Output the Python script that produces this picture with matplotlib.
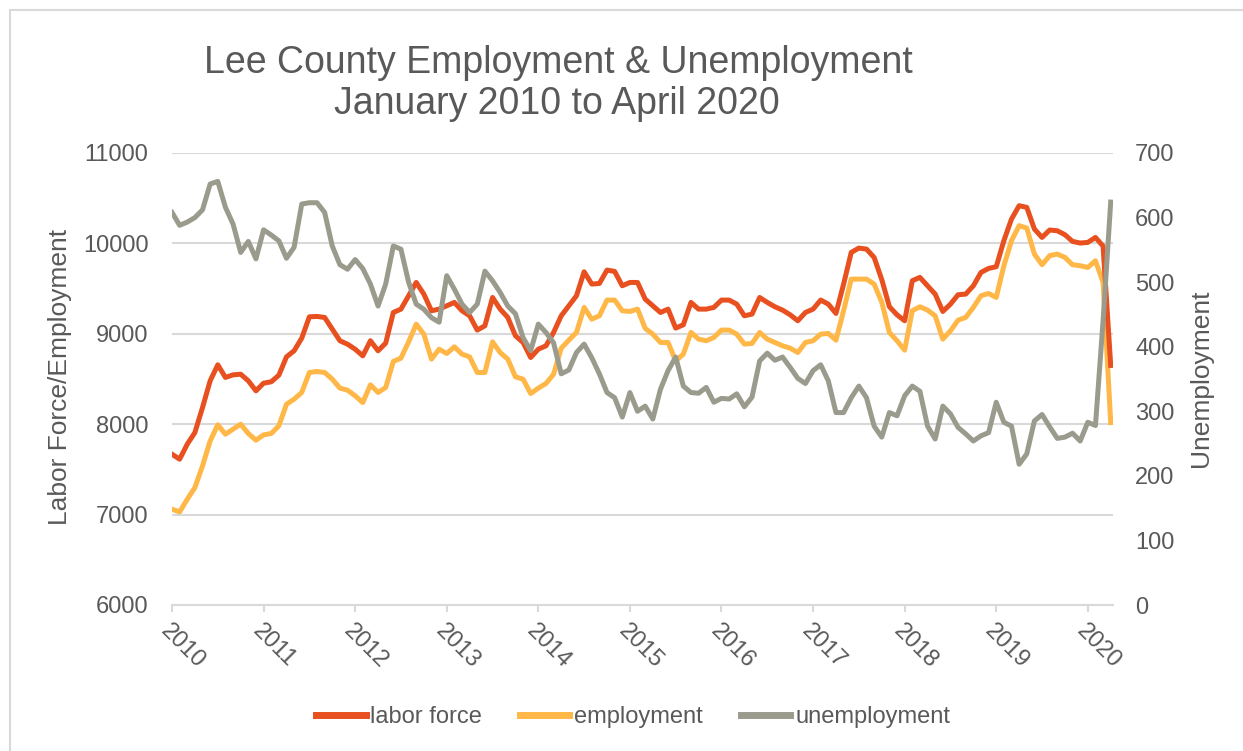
import matplotlib.pyplot as plt
from matplotlib.lines import Line2D
from matplotlib.patches import Rectangle
import numpy as np

plt.rcParams['font.family'] = ['Liberation Sans', 'DejaVu Sans']

# monthly values, Jan 2010 .. Apr 2020
labor_force = [7668, 7613, 7779, 7908, 8185, 8480, 8657, 8517, 8546, 8553, 8480, 8369,
               8454, 8469, 8542, 8745, 8812, 8952, 9188, 9192, 9181, 9052, 8923, 8885,
               8830, 8756, 8923, 8812, 8897, 9236, 9273, 9420, 9568, 9439, 9255, 9273,
               9310, 9347, 9255, 9199, 9041, 9089, 9402, 9273, 9181, 8978, 8904, 8738,
               8830, 8867, 9015, 9199, 9310, 9421, 9686, 9550, 9557, 9705, 9690, 9531,
               9568, 9568, 9384, 9310, 9236, 9273, 9063, 9100, 9347, 9273, 9273, 9292,
               9373, 9373, 9328, 9199, 9218, 9402, 9347, 9299, 9262, 9210, 9144, 9236,
               9273, 9373, 9328, 9225, 9550, 9900, 9948, 9937, 9845, 9600, 9300, 9210,
               9144, 9587, 9624, 9531, 9439, 9247, 9328, 9432, 9439, 9531, 9679, 9723,
               9742, 10030, 10269, 10417, 10399, 10159, 10066, 10148, 10140, 10096, 10022, 10004,
               10011, 10066, 9970, 8650]
employment = [7059, 7030, 7170, 7299, 7539, 7815, 7993, 7889, 7945, 8000, 7897, 7823,
              7882, 7897, 7982, 8221, 8277, 8351, 8572, 8583, 8572, 8498, 8399, 8376,
              8314, 8240, 8435, 8351, 8406, 8694, 8731, 8910, 9107, 8996, 8720, 8830,
              8782, 8856, 8775, 8745, 8572, 8572, 8911, 8793, 8720, 8524, 8498, 8339,
              8399, 8450, 8553, 8841, 8930, 9015, 9292, 9162, 9199, 9373, 9373, 9255,
              9247, 9273, 9060, 8996, 8904, 8904, 8701, 8775, 9015, 8941, 8923, 8959,
              9041, 9041, 8996, 8886, 8893, 9015, 8941, 8904, 8867, 8841, 8793, 8904,
              8923, 8996, 9004, 8930, 9255, 9605, 9605, 9605, 9550, 9350, 9015, 8923,
              8819, 9255, 9299, 9262, 9199, 8941, 9033, 9151, 9181, 9292, 9421, 9446,
              9402, 9753, 10030, 10196, 10170, 9882, 9764, 9864, 9882, 9845, 9764, 9753,
              9734, 9808, 9570, 8018]
unemployment = [608, 588, 593, 600, 612, 652, 656, 616, 590, 546, 563, 536,
                581, 573, 564, 537, 554, 621, 623, 623, 608, 556, 527, 520,
                535, 521, 497, 463, 497, 556, 551, 500, 466, 458, 445, 438,
                510, 489, 466, 453, 466, 517, 502, 484, 463, 451, 414, 394,
                435, 422, 406, 358, 364, 391, 404, 383, 358, 329, 321, 291,
                329, 300, 308, 288, 334, 363, 384, 339, 329, 328, 337, 314,
                320, 319, 327, 307, 322, 378, 390, 379, 384, 368, 351, 343,
                363, 372, 347, 298, 298, 321, 339, 321, 277, 260, 298, 293,
                324, 339, 331, 277, 257, 308, 296, 275, 265, 254, 262, 267,
                314, 283, 277, 218, 234, 285, 295, 276, 258, 260, 266, 254,
                283, 278, 440, 624]
years = ['2010', '2011', '2012', '2013', '2014', '2015', '2016', '2017', '2018', '2019', '2020']

c_lf = '#E8501F'
c_emp = '#FFB847'
c_un = '#9B9B8D'
txt = '#595959'
grid = '#D9D9D9'

fig = plt.figure(figsize=(12.43, 7.51), dpi=100)
fig.patches.append(Rectangle((10 / 1243, -0.1), 1.2, 1.1 - 10 / 751, transform=fig.transFigure,
                             fill=False, edgecolor=grid, lw=1.5))

ax = fig.add_axes([172 / 1243, 1 - 605 / 751, 941 / 1243, 452 / 751])
ax2 = ax.twinx()

x = np.arange(len(labor_force))
ax.plot(x, labor_force, color=c_lf, lw=3.6, solid_joinstyle='round', zorder=3)
ax.plot(x, employment, color=c_emp, lw=3.6, solid_joinstyle='round', zorder=2)
ax2.plot(x, unemployment, color=c_un, lw=3.6, solid_joinstyle='round')

ax.set_xlim(0, 123.3)
ax.set_ylim(6000, 11000)
ax2.set_ylim(0, 700)
ax.set_yticks(range(6000, 11001, 1000))
ax2.set_yticks(range(0, 701, 100))
ax.set_xticks(np.arange(0, 121, 12))
ax.set_xticklabels(years, rotation=-45, ha='left', va='top', rotation_mode='anchor')

ax.grid(axis='y', color=grid, lw=1.5)
ax.set_axisbelow(True)
for a in (ax, ax2):
    for s in ('top', 'left', 'right'):
        a.spines[s].set_visible(False)
ax2.spines['bottom'].set_visible(False)
ax.spines['bottom'].set_color(grid)
ax.spines['bottom'].set_linewidth(1.5)

ax.tick_params(axis='x', colors=grid, labelcolor=txt, labelsize=17, length=5, width=1.5, pad=6)
ax.tick_params(axis='y', length=0, labelcolor=txt, labelsize=17, pad=17)
ax2.tick_params(axis='y', length=0, labelcolor=txt, labelsize=17, pad=16)

fig.text(558 / 1243, 1 - 73 / 751, 'Lee County Employment & Unemployment',
         ha='center', va='baseline', fontsize=27, color=txt)
fig.text(557 / 1243, 1 - 114 / 751, 'January 2010 to April 2020',
         ha='center', va='baseline', fontsize=27, color=txt)
fig.text(60 / 1243, 1 - 377 / 751, 'Labor Force/Employment', rotation=90,
         ha='center', va='center', fontsize=19, color=txt)
fig.text(1201 / 1243, 1 - 378 / 751, 'Unemployment', rotation=90,
         ha='center', va='center', fontsize=19, color=txt)

handles = [Line2D([], [], color=c, lw=5) for c in (c_lf, c_emp, c_un)]
leg = fig.legend(handles, ['labor force', 'employment', 'unemployment'], loc='center',
                 bbox_to_anchor=(633 / 1243, 1 - 717 / 751), ncol=3, frameon=False,
                 fontsize=17, handlelength=2.1, handletextpad=0.2, columnspacing=1.6)
for t in leg.get_texts():
    t.set_color(txt)

fig.savefig('out.png', dpi=100)
